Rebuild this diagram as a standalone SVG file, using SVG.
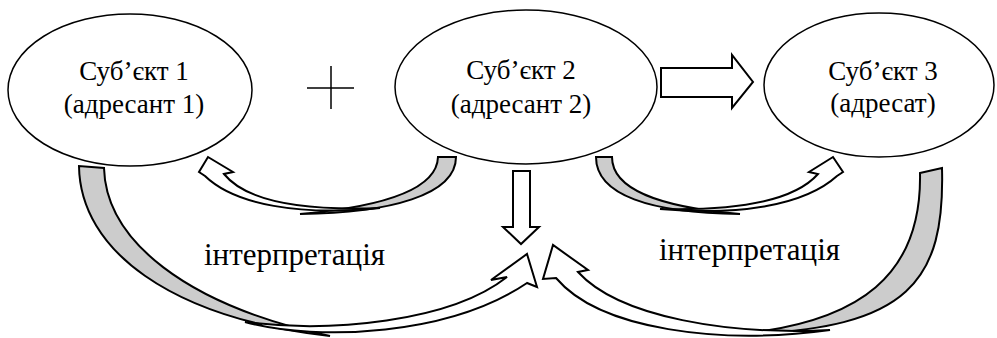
<svg xmlns="http://www.w3.org/2000/svg" width="997" height="338" viewBox="0 0 997 338">
<style>
.node{fill:#fff;stroke:#000;stroke-width:1.5}
.t{font-size:27px;fill:#000;text-anchor:middle}
.lab{font-size:31px;fill:#000}
.w{fill:#fff;stroke:#000;stroke-width:2;stroke-linejoin:miter}
.g{fill:#cccccc;stroke:#000;stroke-width:2;stroke-linejoin:miter}
</style>
<rect width="997" height="338" fill="#fff"/>
<g id="connectors">
<g id="arcA">
<path class="g" d="M438,157 L456,157 C456,195 390,213 300,214 C380,207 437,190 438,157 Z"/>
<path class="w" d="M205,176 C235,205 300,216 380,208 C300,211 245,200 224,174 L233,172 L208,157 L199,172 Z"/>
</g>
<g id="arcB">
<path class="g" d="M612,157 L596,157 C596,195 650,213 740,214 C660,207 612,190 612,157 Z"/>
<path class="w" d="M837,176 C805,205 740,216 660,209 C740,211 795,200 818,174 L809,172 L833,157 L843,172 Z"/>
</g>
<g id="arcC">
<path class="g" d="M79,166 C80,250 170,318 330,336 C185,305 106,240 104,168 Z"/>
<path class="w" d="M245,322 C320,342 450,335 527,283 L537,287 L527,254 L491,280 L507,277 C450,322 330,333 245,322 Z"/>
</g>
<g id="arcD">
<path class="g" d="M920,173 L942,168 C945,280 910,330 740,334 C860,322 922,275 920,173 Z"/>
<path class="w" d="M830,330 C730,335 620,318 578,272 L588,270 L553,245 L543,279 L556,278 C600,330 720,345 830,330 Z"/>
</g>
<path id="down" class="w" d="M513,171 L530,171 L530,227 L539,227 L521,244 L503,227 L513,227 Z"/>
<path id="right" class="w" d="M661,68 L732,68 L732,55 L753,82 L732,108 L732,97 L661,97 Z"/>
<path id="plus" d="M307,88 H354 M331,66 V109" stroke="#000" stroke-width="1.5" fill="none"/>
</g>
<g id="n1" font-family="'Liberation Serif', 'DejaVu Serif', serif">
<ellipse class="node" cx="130" cy="90" rx="122" ry="76"/>
<text class="t" x="134" y="80">Суб’єкт 1</text>
<text class="t" x="134" y="113">(адресант  1)</text>
</g>
<g id="n2" font-family="'Liberation Serif', 'DejaVu Serif', serif">
<ellipse class="node" cx="526" cy="87" rx="131" ry="77"/>
<text class="t" x="521" y="79">Суб’єкт 2</text>
<text class="t" x="521" y="113">(адресант  2)</text>
</g>
<g id="n3" font-family="'Liberation Serif', 'DejaVu Serif', serif">
<ellipse class="node" cx="879" cy="85" rx="115" ry="72"/>
<text class="t" x="883" y="80">Суб’єкт 3</text>
<text class="t" x="883" y="112">(адресат)</text>
</g>
<g id="labels" font-family="'Liberation Serif', 'DejaVu Serif', serif">
<text class="lab" x="204" y="265">інтерпретація</text>
<text class="lab" x="659" y="260">інтерпретація</text>
</g>
</svg>
